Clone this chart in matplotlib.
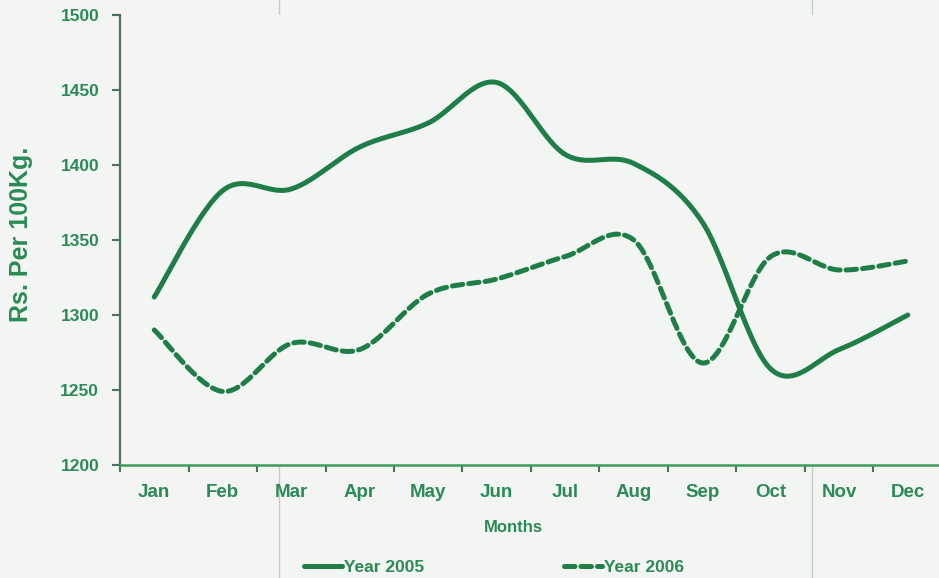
import numpy as np
import matplotlib
matplotlib.use("Agg")
import matplotlib.pyplot as plt
from matplotlib.lines import Line2D

months = ["Jan", "Feb", "Mar", "Apr", "May", "Jun",
          "Jul", "Aug", "Sep", "Oct", "Nov", "Dec"]
year_2005 = [1312, 1383, 1384, 1412, 1428, 1455, 1407, 1401, 1362, 1264, 1277, 1300]
year_2006 = [1290, 1249, 1281, 1277, 1314, 1324, 1339, 1350, 1268, 1339, 1330, 1336]
y_ticks = [1200, 1250, 1300, 1350, 1400, 1450, 1500]

LINE = "#1f7d48"
TEXT = "#2b8a56"
BG = "#f3f5f3"
FONT = "Liberation Sans"


def smooth(xs, ys, n=30):
    """Bezier smoothing through every point (spreadsheet-style smoothed line)."""
    xs = np.asarray(xs, float)
    ys = np.asarray(ys, float)
    px = np.concatenate([[xs[0]], xs, [xs[-1]]])
    py = np.concatenate([[ys[0]], ys, [ys[-1]]])
    out_x, out_y = [], []
    t = np.linspace(0, 1, n)
    for i in range(1, len(px) - 2):
        p0 = np.array([px[i], py[i]])
        p3 = np.array([px[i + 1], py[i + 1]])
        c1 = p0 + (np.array([px[i + 1], py[i + 1]]) - np.array([px[i - 1], py[i - 1]])) / 6
        c2 = p3 - (np.array([px[i + 2], py[i + 2]]) - np.array([px[i], py[i]])) / 6
        b = ((1 - t) ** 3)[:, None] * p0 + (3 * (1 - t) ** 2 * t)[:, None] * c1 \
            + (3 * (1 - t) * t ** 2)[:, None] * c2 + (t ** 3)[:, None] * p3
        out_x.extend(b[:, 0])
        out_y.extend(b[:, 1])
    return np.array(out_x), np.array(out_y)


fig = plt.figure(figsize=(9.39, 5.78), dpi=100, facecolor=BG)
ax = fig.add_axes([120 / 939, 1 - 465 / 578, 822 / 939, 450 / 578])
ax.set_facecolor(BG)

x = np.arange(len(months))
sx, sy = smooth(x, year_2005)
ax.plot(sx, sy, color=LINE, lw=3.6, solid_capstyle="round", label="Year 2005")
sx, sy = smooth(x, year_2006)
ax.plot(sx, sy, color=LINE, lw=3.6, linestyle=(0, (2.1, 1.2)),
        dash_capstyle="round", label="Year 2006")

ax.set_xlim(-0.5, len(months) - 0.5)
ax.set_ylim(1200, 1500)

for side in ("top", "right"):
    ax.spines[side].set_visible(False)
ax.spines["left"].set_color("#4f6f5c")
ax.spines["left"].set_linewidth(1.6)
ax.spines["bottom"].set_color("#3f9a5c")
ax.spines["bottom"].set_linewidth(1.8)

ax.set_yticks(y_ticks)
ax.set_yticklabels([str(v) for v in y_ticks])
ax.tick_params(axis="y", direction="out", length=6, width=1.5, color="#4f6f5c",
               pad=9, labelsize=12.5, labelcolor=TEXT)

ax.set_xticks(np.arange(-0.5, len(months), 1))
ax.set_xticklabels([])
ax.tick_params(axis="x", which="major", direction="out", length=5, width=1.5,
               color="#4f6f5c")
ax.set_xticks(x, minor=True)
ax.set_xticklabels(months, minor=True)
ax.tick_params(axis="x", which="minor", length=0, pad=14, labelsize=13.5,
               labelcolor=TEXT)

for lbl in ax.get_yticklabels() + ax.get_xticklabels(minor=True):
    lbl.set_fontfamily(FONT)
    lbl.set_fontweight("bold")

fig.text(513 / 939, 1 - 527 / 578, "Months", ha="center", va="center",
         color=TEXT, fontsize=12, fontweight="bold", family=FONT)
fig.text(21 / 939, 1 - 234 / 578, "Rs. Per 100Kg.", ha="center", va="center",
         rotation=90, color=TEXT, fontsize=18, fontweight="bold", family=FONT)

leg = fig.legend(loc="center", bbox_to_anchor=(494 / 939, 1 - 567 / 578), ncol=2,
                 frameon=False, handlelength=2.2, handletextpad=0.15,
                 columnspacing=8.0, borderpad=0, borderaxespad=0,
                 prop={"family": FONT, "weight": "bold", "size": 12.5})
for t in leg.get_texts():
    t.set_color(TEXT)

# faint vertical fold lines across the page
for fx in (279, 812):
    fig.add_artist(Line2D([fx / 939, fx / 939], [0, 1], transform=fig.transFigure,
                          color="#c9cdc9", lw=1.0, zorder=0))

fig.savefig("out.png", dpi=100, facecolor=BG)
